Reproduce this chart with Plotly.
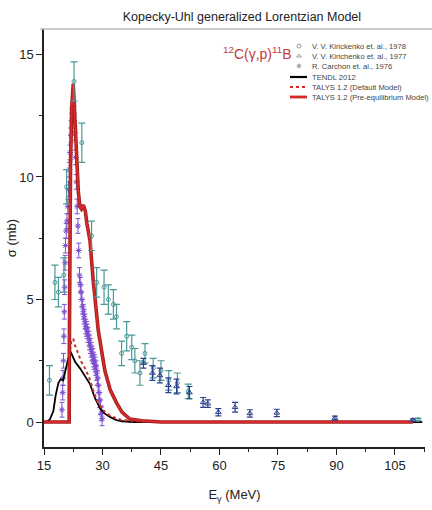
import plotly.graph_objects as go

# ---------------- data ----------------
# R. Carchon et al., 1976 (purple asterisks)
carchon_E = [19.6, 19.8, 19.9, 20.0, 20.1, 20.2, 20.3, 20.4, 20.5, 20.7, 20.9, 21.1, 21.3,
             21.5, 21.7, 21.9, 22.1, 22.3, 22.5, 22.7, 22.9, 23.1, 23.3, 23.5, 23.7, 23.9,
             24.1, 24.3, 24.5, 24.7, 24.9, 25.1, 25.3, 25.5, 25.7, 25.9, 26.1, 26.3, 26.5,
             26.7, 26.9, 27.1, 27.3, 27.5, 27.7, 27.9, 28.1, 28.3, 28.5, 28.7, 28.9, 29.1,
             29.3, 29.5, 29.7, 29.9]
carchon_s = [0.5, 1.2, 1.8, 2.5, 3.5, 4.5, 5.5, 6.5, 7.2, 7.8, 8.2, 8.8, 9.5,
             10.3, 11.0, 11.7, 12.3, 12.8, 13.0, 12.6, 11.8, 10.8, 9.8, 8.8, 8.0, 7.0,
             6.0, 5.6, 5.3, 5.0, 4.7, 4.5, 4.3, 4.1, 3.9, 3.8, 3.7, 3.55, 3.4,
             3.25, 3.1, 2.95, 2.8, 2.7, 2.55, 2.45, 2.35, 2.2, 2.0, 1.8, 1.5, 1.2,
             0.9, 0.6, 0.35, 0.15]
carchon_err = [0.3] * len(carchon_E)

# V. V. Kirickenko et al., 1978 (teal open circles)
k78_E = [16.4, 17.8, 18.7, 20.1, 20.8, 22.7, 24.7, 27.2, 28.5, 30.4, 31.5, 32.8, 33.6,
         34.9, 36.2, 37.5, 38.3, 39.6, 40.9, 43.0, 45.0, 47.0, 49.2, 52.0, 110.9]
k78_s = [1.7, 5.7, 5.3, 6.0, 9.6, 13.9, 11.4, 7.6, 5.7, 5.5, 5.0, 4.8, 4.3,
         2.8, 3.5, 3.05, 2.5, 2.0, 2.8, 2.2, 2.1, 1.7, 1.6, 1.25, 0.1]
k78_err = [0.6, 0.7, 0.6, 0.7, 0.7, 0.8, 0.8, 0.6, 0.6, 0.7, 0.6, 0.6, 0.5,
           0.5, 0.6, 0.5, 0.5, 0.5, 0.4, 0.4, 0.4, 0.4, 0.4, 0.3, 0.05]

# V. V. Kirichenko et al., 1977 (dark blue triangles)
k77_E = [40.5, 42.8, 44.7, 46.9, 49.0, 52.3, 55.8, 57.0, 59.7, 64.0, 67.8, 74.7, 89.6, 109.6]
k77_s = [2.4, 2.0, 1.9, 1.5, 1.45, 1.2, 0.8, 0.75, 0.4, 0.6, 0.35, 0.37, 0.16, 0.08]
k77_err = [0.2, 0.3, 0.3, 0.3, 0.3, 0.25, 0.2, 0.15, 0.15, 0.2, 0.15, 0.15, 0.08, 0.05]

# TENDL 2012
tendl_E = [15.0, 15.7, 16.5, 17.4, 18.0, 18.7, 19.3, 19.9, 20.5, 21.2, 21.7, 22.3, 23.0,
           24.2, 25.5, 26.8, 28.0, 29.4, 30.5, 32.0, 33.6, 35.0, 38.0, 112.0]
tendl_s = [0.0, 0.0, 0.1, 0.45, 1.1, 1.6, 1.75, 1.7, 2.1, 2.6, 2.9, 2.7, 2.45,
           2.2, 1.9, 1.55, 1.0, 0.55, 0.35, 0.2, 0.08, 0.03, 0.0, 0.0]

# TALYS 1.2 (Default Model)
def_E = [21.5, 21.6, 22.0, 22.5, 22.9, 23.8, 24.6, 25.5, 26.5, 27.5, 28.5, 30.0, 32.0, 35.0, 40.0, 45.0]
def_s = [0.0, 2.8, 3.3, 3.4, 3.15, 2.8, 2.45, 2.2, 1.85, 1.35, 0.9, 0.5, 0.25, 0.08, 0.02, 0.0]

# TALYS 1.2 (Pre-equilibrium Model)
pre_E = [15.0, 21.45, 21.5, 21.6, 21.8, 22.1, 22.5, 22.8, 23.3, 23.8, 24.2, 24.6, 25.1,
         25.6, 26.0, 26.4, 26.8, 27.6, 28.9, 30.6, 32.0, 33.6, 35.0, 37.0, 40.0, 45.0, 109.6]
pre_s = [0.0, 0.0, 3.0, 7.0, 10.5, 12.8, 13.8, 12.8, 10.8, 9.4, 8.8, 8.7, 8.85,
         8.6, 8.1, 7.8, 7.4, 5.8, 3.75, 2.1, 1.3, 0.78, 0.4, 0.12, 0.05, 0.0, 0.0]

x_ticks = [15, 30, 45, 60, 75, 90, 105]
y_ticks = [0, 5, 10, 15]

legend_labels = ["V. V. Kirickenko et. al., 1978", "V. V. Kirichenko et. al., 1977",
                 "R. Carchon et. al., 1976", "TENDL 2012", "TALYS 1.2 (Default Model)",
                 "TALYS 1.2 (Pre-equilibrium Model)"]

# ---------------- figure ----------------
TEAL = "#4a9898"
NAVY = "#2c3f8c"
PURPLE = "#7d4fd0"
RED = "#d42a2a"
DARKRED = "#a01c1c"
FONT = "Liberation Sans, Arial, sans-serif"

fig = go.Figure()

fig.add_trace(go.Scatter(
    x=carchon_E, y=carchon_s, mode="markers", showlegend=False,
    marker=dict(symbol="asterisk-open", size=5, color=PURPLE, line=dict(color=PURPLE, width=1)),
    error_y=dict(type="data", array=carchon_err, color=PURPLE, thickness=1, width=2.5)))

fig.add_trace(go.Scatter(x=tendl_E, y=tendl_s, mode="lines", showlegend=False,
                         line=dict(color="black", width=1.8)))

fig.add_trace(go.Scatter(x=def_E, y=def_s, mode="lines", showlegend=False,
                         line=dict(color=RED, width=2, dash="dot")))

fig.add_trace(go.Scatter(x=pre_E, y=pre_s, mode="lines", showlegend=False,
                         line=dict(color=DARKRED, width=3.6)))
fig.add_trace(go.Scatter(x=pre_E, y=pre_s, mode="lines", showlegend=False,
                         line=dict(color=RED, width=2)))

fig.add_trace(go.Scatter(
    x=k78_E, y=k78_s, mode="markers", showlegend=False,
    marker=dict(symbol="circle-open", size=4, color=TEAL, line=dict(color=TEAL, width=1)),
    error_y=dict(type="data", array=k78_err, color=TEAL, thickness=1.2, width=3.5)))

fig.add_trace(go.Scatter(
    x=k77_E, y=k77_s, mode="markers", showlegend=False,
    marker=dict(symbol="triangle-up-open", size=5, color=NAVY, line=dict(color=NAVY, width=1)),
    error_y=dict(type="data", array=k77_err, color=NAVY, thickness=1.2, width=3)))

# ---------- manual legend on a pixel-coordinate overlay axis ----------
PL, PR, PT, PB = 44, 425, 29, 447   # plot-area pixel box
leg_rows = [46, 56, 66, 77, 87, 97]
leg_marker_x = 299
leg_line = (290, 307)
leg_text_x = 310

marker_styles = [
    dict(symbol="circle-open", size=4, color="#9a9a9a", line=dict(color="#9a9a9a", width=1)),
    dict(symbol="triangle-up-open", size=4, color="#9a9a9a", line=dict(color="#9a9a9a", width=1)),
    dict(symbol="asterisk-open", size=4, color="#9a9a9a", line=dict(color="#9a9a9a", width=1)),
]
line_styles = [dict(color="black", width=2.2), dict(color=RED, width=2, dash="dot"),
               dict(color=RED, width=2.8)]
for i in range(6):
    if i < 3:
        fig.add_trace(go.Scatter(x=[leg_marker_x], y=[leg_rows[i]], mode="markers",
                                 marker=marker_styles[i], xaxis="x2", yaxis="y2",
                                 showlegend=False, hoverinfo="skip"))
    else:
        fig.add_trace(go.Scatter(x=list(leg_line), y=[leg_rows[i]] * 2, mode="lines",
                                 line=line_styles[i - 3], xaxis="x2", yaxis="y2",
                                 showlegend=False, hoverinfo="skip"))
    fig.add_annotation(xref="x2", yref="y2", x=leg_text_x, y=leg_rows[i], xanchor="left",
                       yanchor="middle", text=legend_labels[i], showarrow=False,
                       font=dict(family=FONT, size=7.6, color="#444"))

fig.update_layout(
    width=432, height=510,
    margin=dict(l=PL, r=432 - PR, t=PT, b=510 - PB, autoexpand=False),
    paper_bgcolor="white", plot_bgcolor="white",
    font=dict(family=FONT, size=13, color="#222"),
    showlegend=False,
    title=dict(text="Kopecky-Uhl generalized Lorentzian Model", x=0.56, xanchor="center",
               y=0.967, yanchor="middle", font=dict(family=FONT, size=12.5, color="#222")),
    xaxis2=dict(overlaying="x", anchor="y2", range=[PL, PR], visible=False, fixedrange=True,
                automargin=False),
    yaxis2=dict(overlaying="y", anchor="x2", range=[PB, PT], visible=False, fixedrange=True,
                automargin=False),
)

fig.layout.xaxis.update(
    range=[15, 112.7], tickvals=x_ticks, ticks="outside", ticklen=6, tickwidth=1.3,
    tickcolor="#222", showline=True, linecolor="#222", linewidth=1.5, showgrid=False,
    zeroline=False, minor=dict(tick0=15, dtick=7.5, ticks="outside", ticklen=3.5, tickcolor="#222"),
    tickfont=dict(size=13), automargin=False,
    title=dict(text="E<sub>γ</sub> (MeV)", font=dict(size=13), standoff=18))

fig.layout.yaxis.update(
    range=[-1.02, 16.04], tickvals=y_ticks, ticks="outside", ticklen=6, tickwidth=1.3,
    tickcolor="#222", showline=True, linecolor="#222", linewidth=1.5, showgrid=False,
    zeroline=False, minor=dict(tick0=0, dtick=2.5, ticks="outside", ticklen=3.5, tickcolor="#222"),
    tickfont=dict(size=13), automargin=False,
    title=dict(text="σ (mb)", font=dict(size=13), standoff=0))

# top border (light gray)
fig.add_shape(type="line", xref="paper", yref="paper", x0=-0.01, x1=1.02, y0=1, y1=1,
              line=dict(color="#b8b8b8", width=1.5))

# reaction label
fig.add_annotation(xref="x2", yref="y2", x=257, y=53, xanchor="center", yanchor="middle",
                   text="<sup>12</sup>C(γ,p)<sup>11</sup>B", showarrow=False,
                   font=dict(family=FONT, size=14, color="#c23a3a"))

fig.write_html("out.html", config={"displayModeBar": False},
               post_script="document.body.style.margin='0';"
                           "document.body.style.overflow='hidden';")
